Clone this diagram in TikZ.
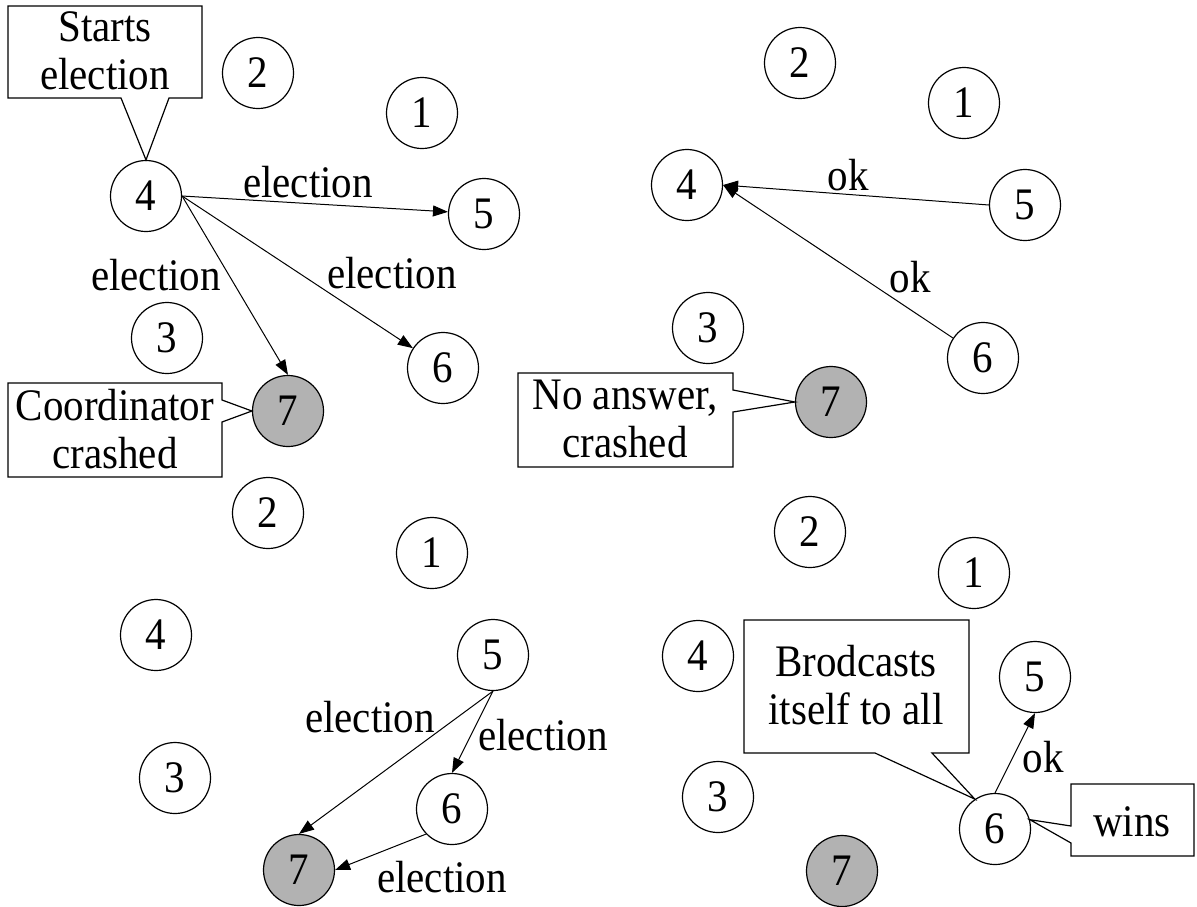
\documentclass[tikz,border=0pt]{standalone}
\usepackage{fontspec}
\usepackage{graphicx}
\setmainfont{Liberation Serif}
\usetikzlibrary{arrows.meta,calc}
\definecolor{crash}{RGB}{178,178,178}
\newcommand{\tx}[1]{\scalebox{1}[1.1]{#1}}
\begin{document}
\begin{tikzpicture}[x=1pt,y=-1pt,
  proc/.style={circle,draw,line width=1.2pt,minimum size=71pt,inner sep=0pt,font=\fontsize{41}{47}\selectfont},
  dead/.style={proc,fill=crash},
  msg/.style={line width=1pt,-{Triangle[length=15pt,width=11pt]}},
  lbl/.style={inner sep=0pt,font=\fontsize{41}{47}\selectfont},
  callout/.style={line width=1.2pt},
  cbox/.style={inner sep=0pt,align=center,font=\fontsize{41}{48}\selectfont}
]
\useasboundingbox (0,0) rectangle (1197,906);

% ---------- top-left panel ----------
\node[proc] (a2) at (258,73) {\tx{2}};
\node[proc] (a1) at (422,113) {\tx{1}};
\node[proc] (a4) at (146,196) {\tx{4}};
\node[proc] (a5) at (484,214) {\tx{5}};
\node[proc] (a3) at (167,338) {\tx{3}};
\node[proc] (a6) at (443,368) {\tx{6}};
\node[dead] (a7) at (288,411) {\tx{7}};
\draw[msg] (a4.east) -- (a5);
\draw[msg] (a4.east) -- (a7.north);
\draw[msg] (a4.east) -- (a6);
\node[lbl] (la1) at (308,182) {\tx{election}};
\node[lbl] (la2) at (156,275) {\tx{election}};
\node[lbl] (la3) at (392,273) {\tx{election}};
\draw[callout] (8,6) -- (202,6) -- (202,98) -- (169,98) -- (a4.north) -- (121,98) -- (8,98) -- cycle;
\node[cbox] (ca1) at (105,51) {\tx{Starts}\\\tx{election}};
\draw[callout] (8,383) -- (222,383) -- (222,400) -- (a7.west) -- (222,422) -- (222,477) -- (8,477) -- cycle;
\node[cbox] (ca2) at (115,429) {\tx{Coordinator}\\\tx{crashed}};

% ---------- top-right panel ----------
\node[proc] (b2) at (800,63) {\tx{2}};
\node[proc] (b1) at (964,103) {\tx{1}};
\node[proc] (b4) at (687,185) {\tx{4}};
\node[proc] (b5) at (1025,205) {\tx{5}};
\node[proc] (b3) at (708,328) {\tx{3}};
\node[proc] (b6) at (983,358) {\tx{6}};
\node[dead] (b7) at (831,402) {\tx{7}};
\draw[msg] (b5.west) -- (b4.east);
\draw[msg] (b6) -- (b4.east);
\node[lbl] (lb1) at (848,175) {\tx{ok}};
\node[lbl] (lb2) at (910,277) {\tx{ok}};
\draw[callout] (518,373) -- (733,373) -- (733,390) -- (b7.west) -- (733,412) -- (733,467) -- (518,467) -- cycle;
\node[cbox] (cb1) at (625,419) {\tx{No answer,}\\\tx{crashed}};

% ---------- bottom-left panel ----------
\node[proc] (c2) at (268,513) {\tx{2}};
\node[proc] (c1) at (432,553) {\tx{1}};
\node[proc] (c4) at (156,635) {\tx{4}};
\node[proc] (c5) at (493,655) {\tx{5}};
\node[proc] (c3) at (175,778) {\tx{3}};
\node[proc] (c6) at (452,809) {\tx{6}};
\node[dead] (c7) at (299,870) {\tx{7}};
\draw[msg] (c5.south) -- (c7.north);
\draw[msg] (c5.south) -- (c6.north);
\draw[msg] (c6.224) -- (c7.east);
\node[lbl] (lc1) at (370,717) {\tx{election}};
\node[lbl] (lc2) at (543,735) {\tx{election}};
\node[lbl] (lc3) at (442,877) {\tx{election}};

% ---------- bottom-right panel ----------
\node[proc] (d2) at (810,532) {\tx{2}};
\node[proc] (d1) at (974,573) {\tx{1}};
\node[proc] (d4) at (698,656) {\tx{4}};
\node[proc] (d5) at (1035,677) {\tx{5}};
\node[proc] (d3) at (718,797) {\tx{3}};
\node[proc] (d6) at (995,829) {\tx{6}};
\node[dead] (d7) at (842,871) {\tx{7}};
\draw[msg] (d6.north) -- (d5.south);
\node[lbl] (ld1) at (1043,757) {\tx{ok}};
\draw[callout] (744,620) -- (969,620) -- (969,753) -- (932,753) -- (d6.124) -- (875,753) -- (744,753) -- cycle;
\node[cbox] (cd1) at (856,685) {\tx{Brodcasts}\\\tx{itself to all}};
\draw[callout] (1071,784) -- (1194,784) -- (1194,856) -- (1071,856) -- (1071,843) -- (d6.15) -- (1071,826) -- cycle;
\node[cbox] (cd2) at (1132,822) {\tx{wins}};
\end{tikzpicture}
\end{document}
